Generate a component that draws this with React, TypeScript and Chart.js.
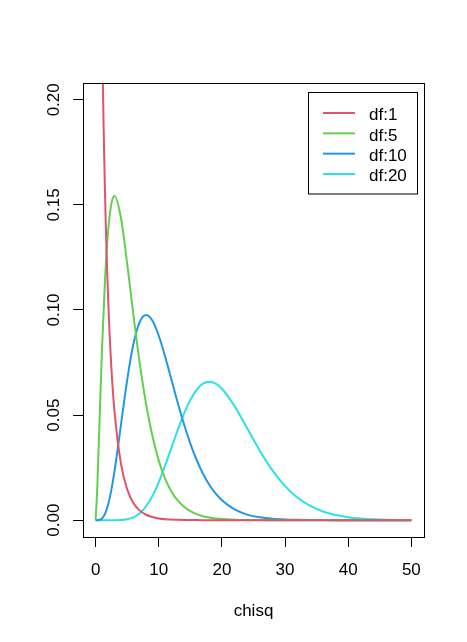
import React, { useEffect, useRef } from "react";
import { Chart, registerables } from "chart.js";

Chart.register(...registerables);

const xValues = [0, 0.25, 0.5, 1, 1.5, 2, 2.5, 3, 4, 5, 6, 7, 8, 9, 10, 11, 12, 13, 14, 15, 16, 17, 18, 19, 20, 22, 24, 26, 28, 30, 32, 34, 36, 38, 40, 42, 44, 46, 48, 50];

const df1 = [null, 0.704, 0.4394, 0.242, 0.1539, 0.1038, 0.0723, 0.0514, 0.027, 0.01465, 0.00811, 0.00455, 0.00258, 0.00148, 0.00085, 0.00049, 0.000286, 0.000167, 0.000098, 0.0000575, 0.000034, 0.00002, 0.000012, 0.000007, 0.000004, 0.0000015, 0.0000006, 0.0000002, 0.0000001, 0, 0, 0, 0, 0, 0, 0, 0, 0, 0, 0];
const df5 = [0, 0.01467, 0.03662, 0.08066, 0.1154, 0.1384, 0.1506, 0.1542, 0.144, 0.122, 0.0973, 0.07437, 0.05511, 0.03989, 0.02834, 0.01983, 0.0137, 0.00937, 0.00635, 0.00427, 0.00286, 0.0019, 0.00125, 0.000824, 0.00054, 0.000229, 0.0000961, 0.00004, 0.0000165, 0.0000068, 0.0000028, 0.0000011, 0.0000005, 0.0000002, 0.0000001, 0, 0, 0, 0, 0];
const df10 = [0, 0.0000045, 0.0000634, 0.00079, 0.00311, 0.00766, 0.01457, 0.02353, 0.04511, 0.0668, 0.08402, 0.09441, 0.09768, 0.0949, 0.08773, 0.07791, 0.06693, 0.05591, 0.04561, 0.03646, 0.02863, 0.02213, 0.01687, 0.0127, 0.00946, 0.00509, 0.002654, 0.001345, 0.000666, 0.000323, 0.000154, 0.000072, 0.000033, 0.000015, 0.0000068, 0.000003, 0.0000013, 0.0000006, 0.0000003, 0.0000001];
const df20 = [0, 0, 0, 0, 0, 0, 0.0000001, 0.000012, 0.000094, 0.000431, 0.00135, 0.00328, 0.00662, 0.01158, 0.01813, 0.02594, 0.03443, 0.04291, 0.05072, 0.05724, 0.06205, 0.06494, 0.06588, 0.065, 0.06255, 0.05427, 0.04369, 0.03303, 0.02367, 0.01621, 0.01066, 0.00677, 0.00416, 0.00249, 0.00145, 0.00083, 0.000464, 0.000255, 0.000137, 0.000073];

const seriesLabels = ["df:1", "df:5", "df:10", "df:20"];
const seriesColors = ["#DF536B", "#61D04F", "#2297E6", "#28E2E5"];
const seriesValues = [df1, df5, df10, df20];

const xTicks = [0, 10, 20, 30, 40, 50];
const xTickLabels = ["0", "10", "20", "30", "40", "50"];
const yTicks = [0, 0.05, 0.1, 0.15, 0.2];
const yTickLabels = ["0.00", "0.05", "0.10", "0.15", "0.20"];
const xTitle = "chisq";

const FONT = "17px 'Liberation Sans', Arial, sans-serif";

const textPlugin = {
  id: "rText",
  afterDraw(chart: any) {
    const ctx = chart.ctx;
    const { left, right, top, bottom } = chart.chartArea;
    const xs = chart.scales.x;
    const ys = chart.scales.y;
    ctx.save();
    // box
    ctx.strokeStyle = "#000";
    ctx.lineWidth = 1;
    ctx.strokeRect(Math.round(left) + 0.5, Math.round(top) + 0.5, Math.round(right - left), Math.round(bottom - top));
    ctx.fillStyle = "#000";
    ctx.font = FONT;
    // x tick labels
    ctx.textAlign = "center";
    ctx.textBaseline = "alphabetic";
    xTicks.forEach((v, i) => {
      ctx.fillText(xTickLabels[i], xs.getPixelForValue(v), 575);
    });
    // x title
    ctx.fillText(xTitle, (left + right) / 2, 616);
    // y tick labels, rotated
    yTicks.forEach((v, i) => {
      ctx.save();
      ctx.translate(54, ys.getPixelForValue(v));
      ctx.rotate(-Math.PI / 2);
      ctx.textAlign = "center";
      ctx.textBaseline = "middle";
      ctx.fillText(yTickLabels[i], 0, 0);
      ctx.restore();
    });
    // legend
    const bx = 308.5, by = 92.5, bw = 109, bh = 101.5;
    ctx.fillStyle = "#fff";
    ctx.fillRect(bx, by, bw, bh);
    ctx.strokeStyle = "#000";
    ctx.lineWidth = 1;
    ctx.strokeRect(bx, by, bw, bh);
    chart.data.datasets.forEach((ds: any, i: number) => {
      const ly = 113 + i * 20.33;
      ctx.strokeStyle = ds.borderColor;
      ctx.lineWidth = 2;
      ctx.beginPath();
      ctx.moveTo(323, ly);
      ctx.lineTo(355, ly);
      ctx.stroke();
      ctx.fillStyle = "#000";
      ctx.textAlign = "left";
      ctx.textBaseline = "alphabetic";
      ctx.fillText(ds.label, 369, ly + 7.4);
    });
    ctx.restore();
  },
};

export default function App() {
  const ref = useRef<HTMLCanvasElement | null>(null);
  useEffect(() => {
    if (!ref.current) return;
    const chart = new Chart(ref.current, {
      type: "line",
      data: {
        datasets: seriesValues.map((vals, i) => ({
          label: seriesLabels[i],
          data: xValues.map((x, j) => ({ x, y: vals[j] })),
          borderColor: seriesColors[i],
          backgroundColor: seriesColors[i],
          borderWidth: 2,
          pointRadius: 0,
          fill: false,
          cubicInterpolationMode: "monotone",
        })),
      },
      options: {
        animation: false,
        responsive: false,
        devicePixelRatio: 1,
        layout: { padding: { top: 83, right: 43, left: 0, bottom: 0 } },
        plugins: { legend: { display: false }, tooltip: { enabled: false } },
        scales: {
          x: {
            type: "linear",
            min: -2,
            max: 52,
            afterBuildTicks: (s: any) => {
              s.ticks = xTicks.map((v) => ({ value: v }));
            },
            afterFit: (s: any) => {
              s.height = 105;
            },
            ticks: { display: false },
            grid: { drawOnChartArea: false, drawTicks: true, tickLength: 10, color: "#000", lineWidth: 1 },
            border: { display: false },
          },
          y: {
            type: "linear",
            min: -0.008,
            max: 0.208,
            afterBuildTicks: (s: any) => {
              s.ticks = yTicks.map((v) => ({ value: v }));
            },
            afterFit: (s: any) => {
              s.width = 83;
            },
            ticks: { display: false },
            grid: { drawOnChartArea: false, drawTicks: true, tickLength: 10, color: "#000", lineWidth: 1 },
            border: { display: false },
          },
        },
      },
      plugins: [textPlugin],
    });
    return () => chart.destroy();
  }, []);
  return (
    <canvas
      ref={ref}
      width={467}
      height={642}
      style={{ position: "absolute", left: 0, top: 0, display: "block", background: "#fff" }}
    />
  );
}
